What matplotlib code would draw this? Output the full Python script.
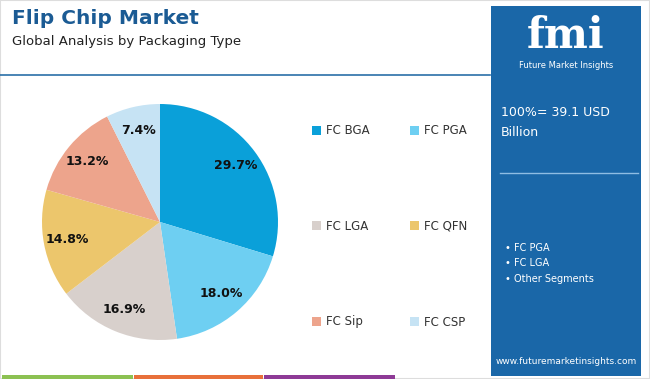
import matplotlib.pyplot as plt
from matplotlib.patches import Rectangle

labels = ['FC BGA', 'FC PGA', 'FC LGA', 'FC QFN', 'FC Sip', 'FC CSP']
shares = [29.7, 18.0, 16.9, 14.8, 13.2, 7.4]
colors = ['#0aa0d9', '#6ecff2', '#d8d0cc', '#ecc66c', '#eda48c', '#c6e3f4']
panel_bullets = ['FC PGA', 'FC LGA', 'Other Segments']
total_text = '100%= 39.1 USD\nBillion'

W, H = 650, 379
fig = plt.figure(figsize=(6.5, 3.79), dpi=100)
fig.patch.set_facecolor('white')

def fx(x):
    return x / W

def fy(y):
    return 1 - y / H

# frame, header line, bottom colour strips
fig.add_artist(Rectangle((0, 0), 1, 1, transform=fig.transFigure, fill=False,
                         edgecolor='#dddddd', lw=1.5))
fig.add_artist(plt.Line2D([0, fx(490)], [fy(75), fy(75)], transform=fig.transFigure,
                          color='#2a6fa8', lw=1.2))
for x0, x1, c in [(2, 133, '#8cc152'), (134, 263, '#e8703a'), (264, 395, '#8e3a96')]:
    fig.add_artist(Rectangle((fx(x0), 0), fx(x1 - x0), fy(375), transform=fig.transFigure,
                             color=c, lw=0))

fig.text(fx(12), fy(19), 'Flip Chip Market', fontsize=14.5, fontweight='heavy',
         color='#1b5b94', va='center', ha='left')
fig.text(fx(12), fy(42), 'Global Analysis by Packaging Type', fontsize=9.5,
         color='#222222', va='center', ha='left')

# pie
ax = fig.add_axes([fx(42), fy(340), fx(236), 236 / H])
wedges, _, autotexts = ax.pie(shares, colors=colors, startangle=90, counterclock=False,
                              autopct='%1.1f%%', pctdistance=0.8,
                              wedgeprops=dict(linewidth=0),
                              textprops=dict(fontsize=9, fontweight='bold', color='#111111'))
ax.set_xlim(-1, 1)
ax.set_ylim(-1, 1)

# legend
rows = [131, 226, 322]
cols = [(312, 326), (410, 424)]
for i, (lab, c) in enumerate(zip(labels, colors)):
    r, k = divmod(i, 2)
    sx, tx = cols[k]
    y = rows[r]
    fig.add_artist(Rectangle((fx(sx), fy(y + 4)), fx(9), 9 / H, transform=fig.transFigure,
                             color=c, lw=0))
    fig.text(fx(tx), fy(y), lab, fontsize=8.5, color='#333333', va='center', ha='left')

# side panel
fig.add_artist(Rectangle((fx(491), fy(376)), fx(150), 370 / H, transform=fig.transFigure,
                         color='#1a67a8', lw=0))
fig.text(fx(566), fy(36), 'fmi', fontsize=30, fontweight='bold', color='white',
         ha='center', va='center', family='DejaVu Serif')
fig.text(fx(566), fy(66), 'Future Market Insights', fontsize=6, color='white',
         ha='center', va='center')
fig.text(fx(501), fy(123), total_text, fontsize=9, color='white', ha='left',
         va='center', linespacing=1.7)
fig.add_artist(plt.Line2D([fx(500), fx(638)], [fy(173), fy(173)],
                          transform=fig.transFigure, color='#8fbde3', lw=1))
for y, b in zip([248, 263, 279], panel_bullets):
    fig.text(fx(505), fy(y), '\u2022 ' + b, fontsize=7, color='white',
             ha='left', va='center')
fig.text(fx(566), fy(362), 'www.futuremarketinsights.com', fontsize=6.5, color='white',
         ha='center', va='center')

fig.savefig('out.png', dpi=100)
